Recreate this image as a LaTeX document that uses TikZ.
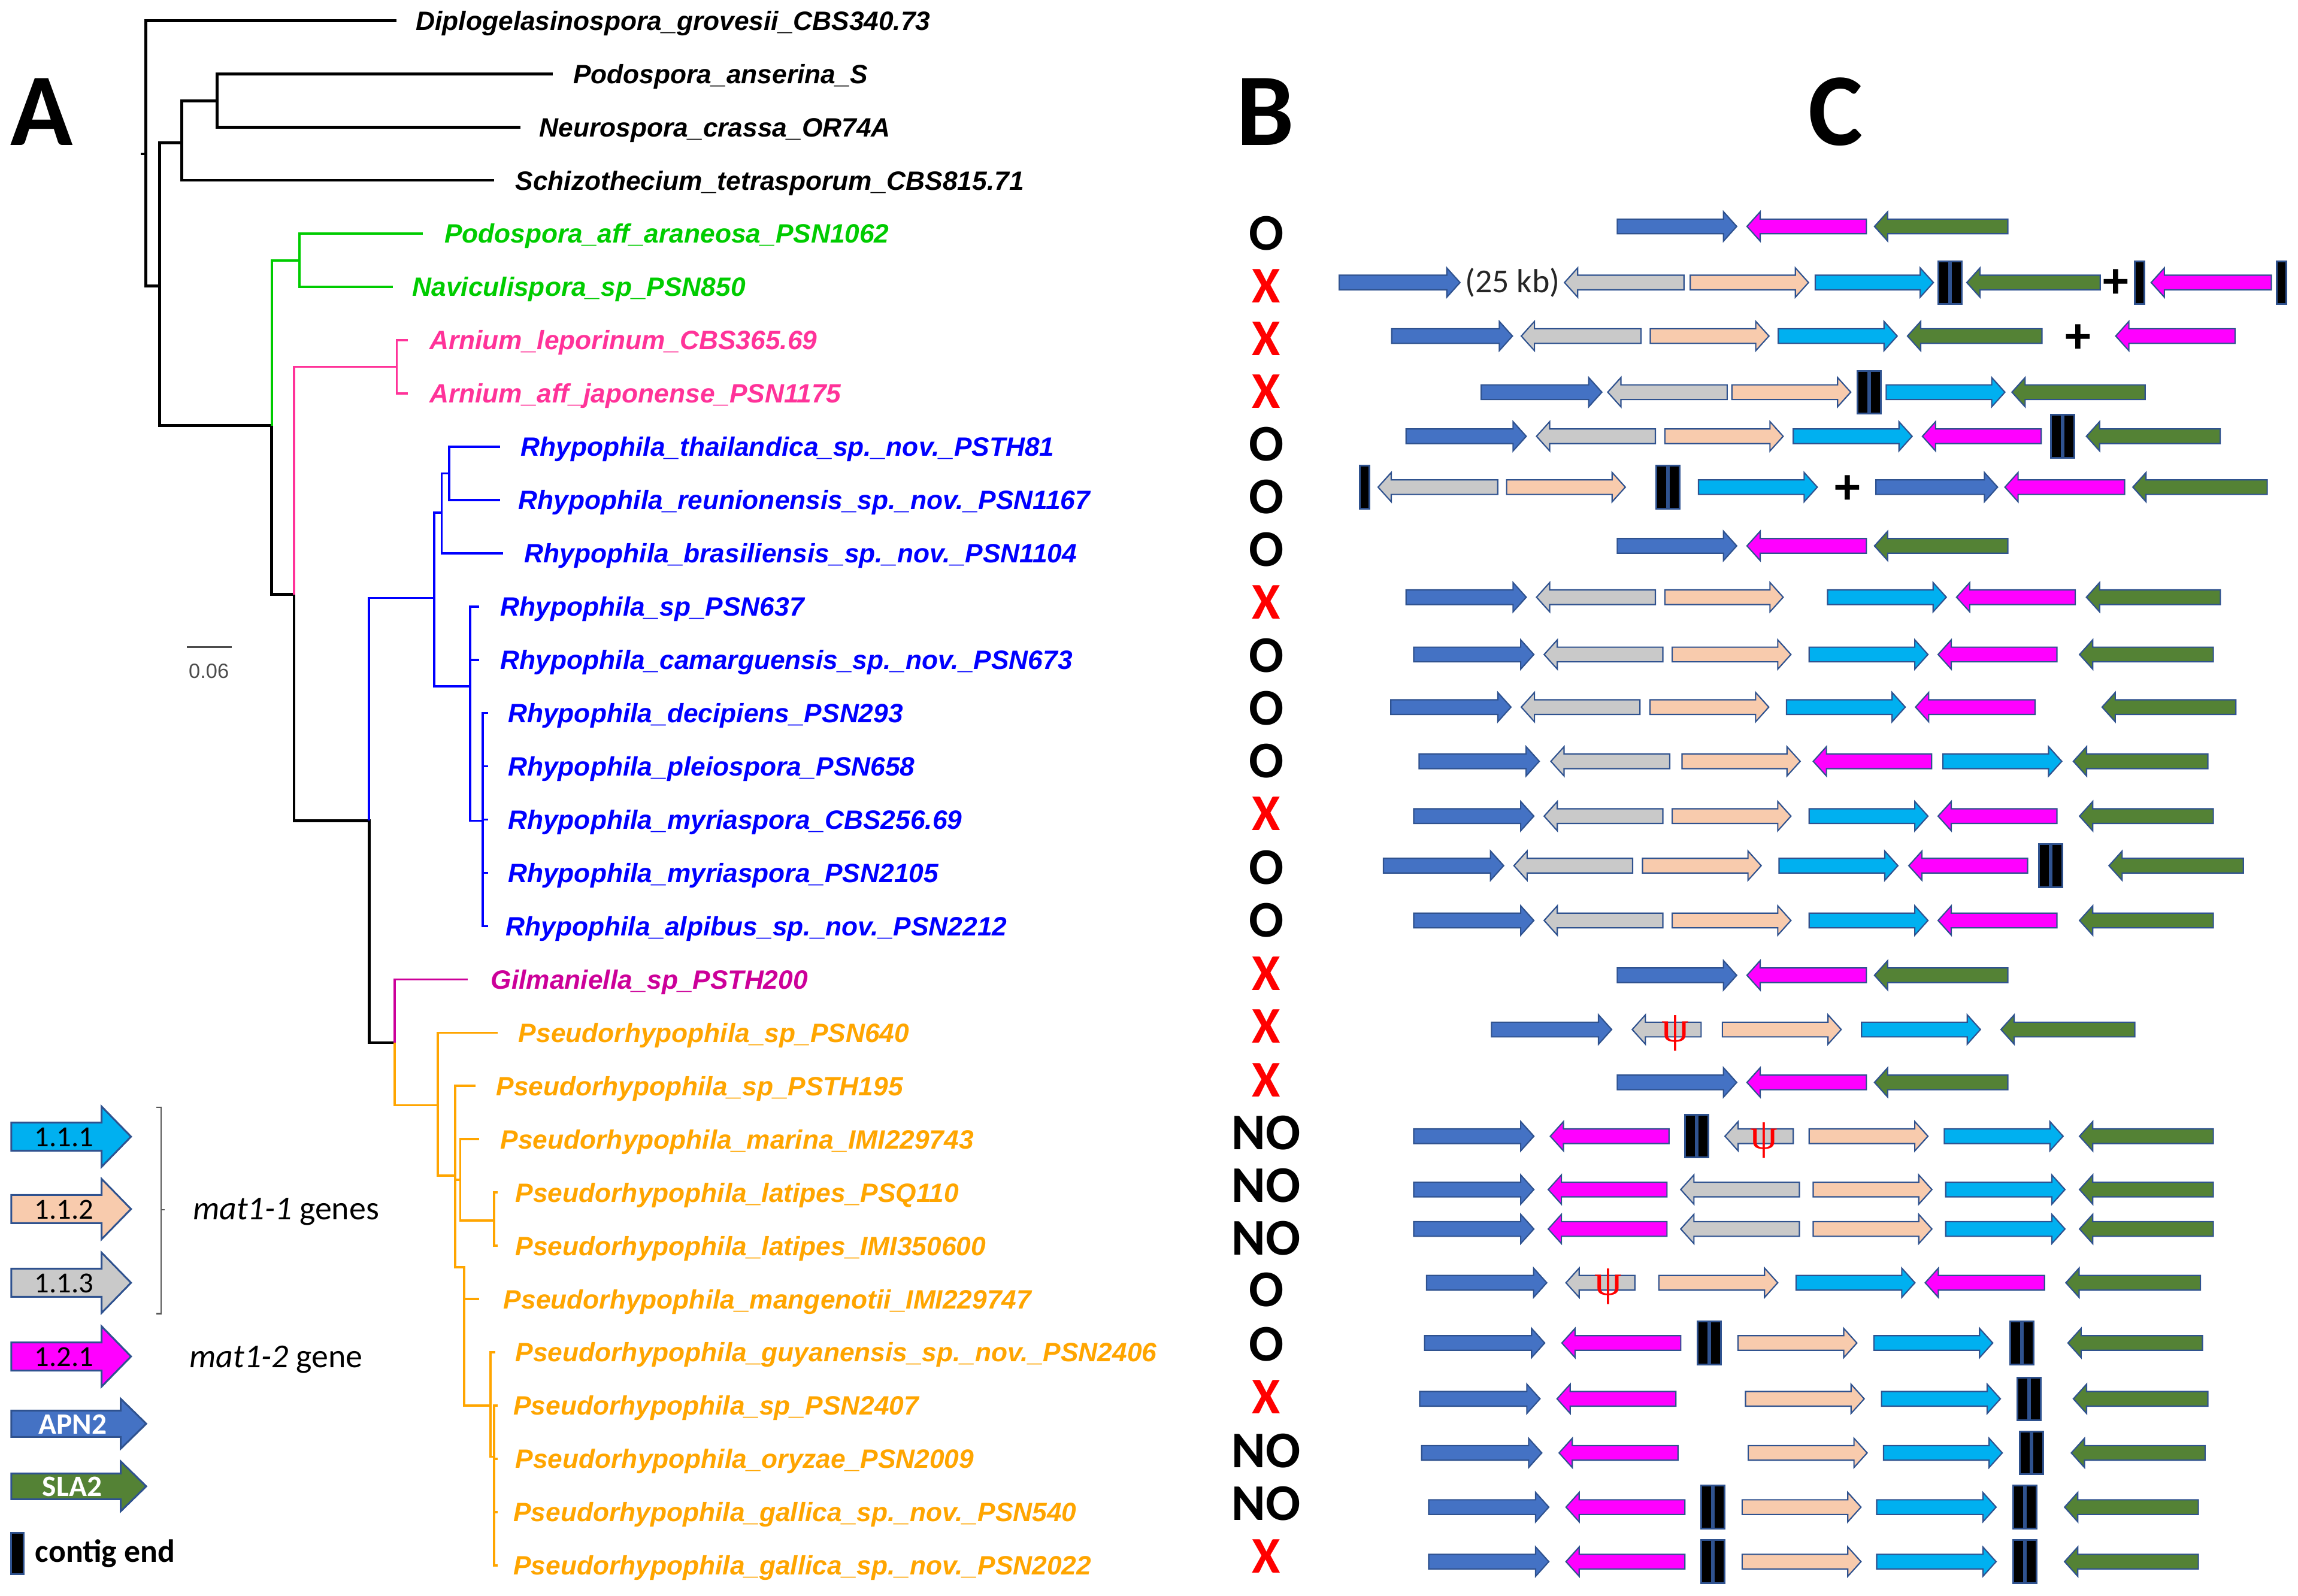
\documentclass[tikz,border=0pt]{standalone}
\usepackage{fontspec}
\setmainfont{Liberation Sans}
\newfontfamily\calfont{Carlito}
\newfontfamily\psifont{Liberation Serif}
\usepackage{tikz}
\usetikzlibrary{positioning}
\usepackage{xcolor}
\definecolor{colApn}{RGB}{68,114,196}
\definecolor{colSla}{RGB}{84,130,53}
\definecolor{colCyan}{RGB}{0,176,240}
\definecolor{colPeach}{RGB}{248,203,173}
\definecolor{colGray}{RGB}{201,201,201}
\definecolor{colMag}{RGB}{255,0,255}
\definecolor{geneline}{RGB}{47,82,143}
\definecolor{trgreen}{RGB}{0,204,0}
\definecolor{trpink}{RGB}{255,51,153}
\definecolor{trblue}{RGB}{0,0,255}
\definecolor{trpurple}{RGB}{204,0,153}
\definecolor{trorange}{RGB}{255,165,0}
\tikzstyle{gene} = [draw=geneline, line width=0.5pt, line join=miter]
\tikzstyle{contig} = [draw=geneline, fill=black, line width=0.7pt]
\tikzstyle{branch} = [line width=1.1pt, line join=miter]
\tikzstyle{blk} = [branch, black]
\tikzstyle{grn} = [branch, trgreen, line width=0.85pt]
\tikzstyle{pnk} = [branch, trpink, line width=0.85pt]
\tikzstyle{blu} = [branch, trblue, line width=0.85pt]
\tikzstyle{pur} = [branch, trpurple, line width=0.85pt]
\tikzstyle{org} = [branch, trorange, line width=0.85pt]
\tikzstyle{taxon} = [anchor=base west, inner sep=0pt, font=\fontsize{10.3}{12}\selectfont\bfseries\itshape]
\tikzstyle{panel} = [anchor=base, inner sep=0pt, font=\calfont\bfseries\fontsize{40}{48}\selectfont]
\tikzstyle{cmpsym} = [anchor=base, inner sep=0pt, font=\calfont\bfseries\fontsize{20}{24}\selectfont]
\tikzstyle{plus} = [inner sep=0pt, font=\calfont\bfseries\fontsize{20}{24}\selectfont]
\tikzstyle{psi} = [inner sep=0pt, text=red, font=\psifont\fontsize{17}{18}\selectfont]
\tikzstyle{legtext} = [inner sep=0pt, font=\calfont\fontsize{11.3}{13}\selectfont]
\tikzstyle{legname} = [inner sep=0pt, text=white, font=\calfont\bfseries\fontsize{11.5}{13}\selectfont]
\tikzstyle{legnote} = [anchor=west, inner sep=0pt, font=\calfont\fontsize{13}{15}\selectfont]
% right-pointing gene: tail, tip, y, colour
\newcommand{\rgene}[4]{\draw[gene, fill=#4] (#1,#3-5) -- (#2-9,#3-5) -- (#2-9,#3-10) -- (#2,#3) -- (#2-9,#3+10) -- (#2-9,#3+5) -- (#1,#3+5) -- cycle;}
% left-pointing gene: tip, tail, y, colour
\newcommand{\lgene}[4]{\draw[gene, fill=#4] (#1,#3) -- (#1+9,#3-10) -- (#1+9,#3-5) -- (#2,#3-5) -- (#2,#3+5) -- (#1+9,#3+5) -- (#1+9,#3+10) -- cycle;}
\newcommand{\onebar}[2]{\draw[contig] (#1-3.2,#2-14.6) rectangle (#1+3.2,#2+14.6);}
\newcommand{\twobar}[2]{\draw[contig] (#1-8,#2-14.6) rectangle (#1-0.6,#2+14.6); \draw[contig] (#1+0.6,#2-14.6) rectangle (#1+8,#2+14.6);}
\newcommand{\legarrow}[6]{\draw[gene, fill=#6, line width=0.7pt] (7.7,#1-#4) -- (#2,#1-#4) -- (#2,#1-#5) -- (#3,#1) -- (#2,#1+#5) -- (#2,#1+#4) -- (7.7,#1+#4) -- cycle;}
% three-gene rows
\newcommand{\shortrow}[1]{\rgene{1103.5}{1185}{#1}{colApn} \lgene{1192}{1273.5}{#1}{colMag} \lgene{1279}{1370}{#1}{colSla}}
\newcommand{\fullrow}[1]{\rgene{964.6}{1046.6}{#1}{colApn} \lgene{1053.6}{1134.6}{#1}{colGray} \rgene{1141}{1222}{#1}{colPeach} \rgene{1234.4}{1315.5}{#1}{colCyan} \lgene{1322.4}{1403.5}{#1}{colMag} \lgene{1418.9}{1510.2}{#1}{colSla}}

\begin{document}
\begin{tikzpicture}[x=0.02cm, y=-0.02cm]
\useasboundingbox (0,0) rectangle (1568,1089);

% Panel letters
\node[panel] (panA) at (28.5,99) {A};
\node[panel] (panB) at (863.5,99) {B};
\node[panel] (panC) at (1252.5,99) {C};

% Tree - backbone
\draw[blk] (96,105) -- (99.6,105);
\draw[blk] (270.7,14) -- (99.6,14) -- (99.6,195) -- (108.8,195);
\draw[blk] (124.1,97.6) -- (108.8,97.6) -- (108.8,290.4) -- (185.4,290.4) -- (185.4,405.6) -- (200.7,405.6) -- (200.7,559.9) -- (251.8,559.9) -- (251.8,711.4) -- (269.2,711.4);
\draw[blk] (148.1,69) -- (124.1,69) -- (124.1,123.05) -- (337,123.05);
\draw[blk] (377,50.35) -- (148.1,50.35) -- (148.1,86.7) -- (355,86.7);

% Tree - clades
\draw[grn] (185.4,290.4) -- (185.4,177.8) -- (204.3,177.8);
\draw[grn] (288.6,159.4) -- (204.3,159.4) -- (204.3,195.75) -- (268.2,195.75);
\draw[pnk] (200.7,405.6) -- (200.7,250.3) -- (270.7,250.3);
\draw[pnk] (278.4,232.1) -- (270.7,232.1) -- (270.7,268.45) -- (278.4,268.45);
\draw[blu] (251.8,559.9) -- (251.8,408) -- (296.3,408);
\draw[blu] (301.4,349.8) -- (296.3,349.8) -- (296.3,468.2) -- (320.8,468.2);
\draw[blu] (306.5,323) -- (301.4,323) -- (301.4,377.5) -- (343.3,377.5);
\draw[blu] (341.2,304.8) -- (306.5,304.8) -- (306.5,341.15) -- (341.2,341.15);
\draw[blu] (327,413.85) -- (320.8,413.85) -- (320.8,560) -- (329.5,560);
\draw[blu] (320.8,450.2) -- (327,450.2);
\draw[blu] (333,486.55) -- (329.5,486.55) -- (329.5,631.95) -- (333,631.95);
\draw[blu] (329.5,522.9) -- (333,522.9);
\draw[blu] (329.5,559.25) -- (333,559.25);
\draw[blu] (329.5,595.6) -- (333,595.6);
\draw[pur] (269.2,711.4) -- (269.2,668.3) -- (319.3,668.3);
\draw[org] (269.2,711.4) -- (269.2,754.1) -- (298.8,754.1);
\draw[org] (339.7,704.65) -- (298.8,704.65) -- (298.8,802.1) -- (310.6,802.1);
\draw[org] (324.4,741) -- (310.6,741) -- (310.6,864.7) -- (316.7,864.7) -- (316.7,959.2) -- (334.6,959.2);
\draw[org] (310.6,805) -- (314.1,805);
\draw[org] (327,777.35) -- (314.1,777.35) -- (314.1,832.7) -- (337.1,832.7);
\draw[org] (339.5,813.7) -- (337.1,813.7) -- (337.1,850.05) -- (339.5,850.05);
\draw[org] (316.7,886.4) -- (327,886.4);
\draw[org] (338,922.75) -- (334.6,922.75) -- (334.6,994) -- (337.1,994);
\draw[org] (339.5,959.1) -- (337.1,959.1) -- (337.1,1068.15) -- (339.5,1068.15);
\draw[org] (337.1,995.45) -- (339.5,995.45);
\draw[org] (337.1,1031.8) -- (339.5,1031.8);

% Scale bar
\draw[black!70, line width=0.6pt] (127.7,441.5) -- (158.3,441.5);
\node[inner sep=0pt, text=black!70, font=\fontsize{8}{9}\selectfont] (scale) at (142.5,458) {0.06};

% Taxa
\node[taxon] (t1) at (283.5,20.5) {Diplogelasinospora\_grovesii\_CBS340.73};
\node[taxon] (t2) at (390.8,56.85) {Podospora\_anserina\_S};
\node[taxon] (t3) at (367.8,93.2) {Neurospora\_crassa\_OR74A};
\node[taxon] (t4) at (351.4,129.55) {Schizothecium\_tetrasporum\_CBS815.71};
\node[taxon, text=trgreen] (t5) at (302.9,165.9) {Podospora\_aff\_araneosa\_PSN1062};
\node[taxon, text=trgreen] (t6) at (281,202.25) {Naviculispora\_sp\_PSN850};
\node[taxon, text=trpink] (t7) at (292.7,238.6) {Arnium\_leporinum\_CBS365.69};
\node[taxon, text=trpink] (t8) at (292.7,274.95) {Arnium\_aff\_japonense\_PSN1175};
\node[taxon, text=trblue] (t9) at (355,311.3) {Rhypophila\_thailandica\_sp.\_nov.\_PSTH81};
\node[taxon, text=trblue] (t10) at (353.5,347.65) {Rhypophila\_reunionensis\_sp.\_nov.\_PSN1167};
\node[taxon, text=trblue] (t11) at (357.6,384) {Rhypophila\_brasiliensis\_sp.\_nov.\_PSN1104};
\node[taxon, text=trblue] (t12) at (341.2,420.35) {Rhypophila\_sp\_PSN637};
\node[taxon, text=trblue] (t13) at (341.2,456.7) {Rhypophila\_camarguensis\_sp.\_nov.\_PSN673};
\node[taxon, text=trblue] (t14) at (346.3,493.05) {Rhypophila\_decipiens\_PSN293};
\node[taxon, text=trblue] (t15) at (346.3,529.4) {Rhypophila\_pleiospora\_PSN658};
\node[taxon, text=trblue] (t16) at (346.3,565.75) {Rhypophila\_myriaspora\_CBS256.69};
\node[taxon, text=trblue] (t17) at (346.3,602.1) {Rhypophila\_myriaspora\_PSN2105};
\node[taxon, text=trblue] (t18) at (344.8,638.45) {Rhypophila\_alpibus\_sp.\_nov.\_PSN2212};
\node[taxon, text=trpurple] (t19) at (334.6,674.8) {Gilmaniella\_sp\_PSTH200};
\node[taxon, text=trorange] (t20) at (353.5,711.15) {Pseudorhypophila\_sp\_PSN640};
\node[taxon, text=trorange] (t21) at (338.2,747.5) {Pseudorhypophila\_sp\_PSTH195};
\node[taxon, text=trorange] (t22) at (341.2,783.85) {Pseudorhypophila\_marina\_IMI229743};
\node[taxon, text=trorange] (t23) at (351.4,820.2) {Pseudorhypophila\_latipes\_PSQ110};
\node[taxon, text=trorange] (t24) at (351.4,856.55) {Pseudorhypophila\_latipes\_IMI350600};
\node[taxon, text=trorange] (t25) at (343.3,892.9) {Pseudorhypophila\_mangenotii\_IMI229747};
\node[taxon, text=trorange] (t26) at (351.4,929.25) {Pseudorhypophila\_guyanensis\_sp.\_nov.\_PSN2406};
\node[taxon, text=trorange] (t27) at (350,965.6) {Pseudorhypophila\_sp\_PSN2407};
\node[taxon, text=trorange] (t28) at (351.4,1001.95) {Pseudorhypophila\_oryzae\_PSN2009};
\node[taxon, text=trorange] (t29) at (350,1038.3) {Pseudorhypophila\_gallica\_sp.\_nov.\_PSN540};
\node[taxon, text=trorange] (t30) at (350,1074.65) {Pseudorhypophila\_gallica\_sp.\_nov.\_PSN2022};

% Column B
\node[cmpsym] (b5) at (864,170.5) {O};
\node[cmpsym, text=red] (b6) at (864,206.5) {X};
\node[cmpsym, text=red] (b7) at (864,242.5) {X};
\node[cmpsym, text=red] (b8) at (864,278.5) {X};
\node[cmpsym] (b9) at (864,314.5) {O};
\node[cmpsym] (b10) at (864,350.5) {O};
\node[cmpsym] (b11) at (864,386.5) {O};
\node[cmpsym, text=red] (b12) at (864,422.5) {X};
\node[cmpsym] (b13) at (864,458.5) {O};
\node[cmpsym] (b14) at (864,494.5) {O};
\node[cmpsym] (b15) at (864,530.5) {O};
\node[cmpsym, text=red] (b16) at (864,566.5) {X};
\node[cmpsym] (b17) at (864,603.5) {O};
\node[cmpsym] (b18) at (864,639.5) {O};
\node[cmpsym, text=red] (b19) at (864,675.5) {X};
\node[cmpsym, text=red] (b20) at (864,711.5) {X};
\node[cmpsym, text=red] (b21) at (864,748.5) {X};
\node[cmpsym] (b22) at (864,784.5) {NO};
\node[cmpsym] (b23) at (864,820.5) {NO};
\node[cmpsym] (b24) at (864,856.5) {NO};
\node[cmpsym] (b25) at (864,891.5) {O};
\node[cmpsym] (b26) at (864,928.5) {O};
\node[cmpsym, text=red] (b27) at (864,964.5) {X};
\node[cmpsym] (b28) at (864,1001.5) {NO};
\node[cmpsym] (b29) at (864,1037.5) {NO};
\node[cmpsym, text=red] (b30) at (864,1073.5) {X};

% Column C - loci
\shortrow{154.5}
\rgene{913.8}{996.2}{192.8}{colApn}
\node[inner sep=0pt, text=black!85, font=\calfont\fontsize{13}{15}\selectfont] (gap6) at (1032,192.8) {(25 kb)};
\lgene{1067.5}{1149}{192.8}{colGray}
\rgene{1153.3}{1234}{192.8}{colPeach}
\rgene{1238.6}{1319.2}{192.8}{colCyan}
\twobar{1330.6}{192.8}
\lgene{1342}{1433}{192.8}{colSla}
\node[plus] (plus6) at (1443.6,193.5) {+};
\onebar{1460}{192.8}
\lgene{1467.8}{1549.8}{192.8}{colMag}
\onebar{1556.8}{192.8}

\rgene{949.6}{1032}{229.3}{colApn}
\lgene{1038}{1119.7}{229.3}{colGray}
\rgene{1126}{1207}{229.3}{colPeach}
\rgene{1213.4}{1294.5}{229.3}{colCyan}
\lgene{1301.5}{1393.3}{229.3}{colSla}
\node[plus] (plus7) at (1418,231) {+};
\lgene{1443.6}{1525}{229.3}{colMag}

\rgene{1010.7}{1093}{267.6}{colApn}
\lgene{1097}{1178.5}{267.6}{colGray}
\rgene{1181.7}{1262.8}{267.6}{colPeach}
\twobar{1275.4}{267.6}
\rgene{1287}{1368}{267.6}{colCyan}
\lgene{1372.8}{1463.7}{267.6}{colSla}

\rgene{959.4}{1041.4}{297.7}{colApn}
\lgene{1048.4}{1129.5}{297.7}{colGray}
\rgene{1136}{1216.7}{297.7}{colPeach}
\rgene{1223.6}{1304.7}{297.7}{colCyan}
\lgene{1311.7}{1392.8}{297.7}{colMag}
\twobar{1407.5}{297.7}
\lgene{1423.6}{1514.9}{297.7}{colSla}

\onebar{931}{332.4}
\lgene{940.3}{1021.9}{332.4}{colGray}
\rgene{1028}{1109}{332.4}{colPeach}
\twobar{1138}{332.4}
\rgene{1158.9}{1240}{332.4}{colCyan}
\node[plus] (plus10) at (1260.5,334) {+};
\rgene{1280}{1363}{332.4}{colApn}
\lgene{1368}{1449.7}{332.4}{colMag}
\lgene{1455.3}{1547}{332.4}{colSla}

\shortrow{372.5}

\rgene{959.4}{1041.4}{407.5}{colApn}
\lgene{1048.4}{1129.5}{407.5}{colGray}
\rgene{1136}{1216.7}{407.5}{colPeach}
\rgene{1247}{1328}{407.5}{colCyan}
\lgene{1335}{1416}{407.5}{colMag}
\lgene{1423.6}{1515}{407.5}{colSla}

\fullrow{446.6}

\rgene{949}{1031}{482.5}{colApn}
\lgene{1038}{1119}{482.5}{colGray}
\rgene{1125.8}{1206.9}{482.5}{colPeach}
\rgene{1219}{1300}{482.5}{colCyan}
\lgene{1307}{1388.6}{482.5}{colMag}
\lgene{1434.3}{1525.6}{482.5}{colSla}

\rgene{968.3}{1050.3}{519.5}{colApn}
\lgene{1058.2}{1139.3}{519.5}{colGray}
\rgene{1147.7}{1228.3}{519.5}{colPeach}
\lgene{1237.2}{1318}{519.5}{colMag}
\rgene{1325.7}{1406.8}{519.5}{colCyan}
\lgene{1414.7}{1506.5}{519.5}{colSla}

\fullrow{556.9}

\rgene{944}{1026}{590.7}{colApn}
\lgene{1033}{1114}{590.7}{colGray}
\rgene{1120.7}{1201.7}{590.7}{colPeach}
\rgene{1213.9}{1295}{590.7}{colCyan}
\lgene{1302.4}{1383.5}{590.7}{colMag}
\twobar{1399.2}{590.7}
\lgene{1439}{1530.7}{590.7}{colSla}

\fullrow{628.1}
\shortrow{665.5}

\rgene{1017.7}{1099.7}{702.5}{colApn}
\lgene{1113.7}{1160.7}{702.5}{colGray}
\node[psi] (psi20) at (1143,705) {ψ};
\rgene{1175.2}{1256.3}{702.5}{colPeach}
\rgene{1270.2}{1351.3}{702.5}{colCyan}
\lgene{1365.3}{1456.6}{702.5}{colSla}

\shortrow{738.6}

\rgene{964.6}{1046.6}{775.3}{colApn}
\lgene{1057.8}{1138.8}{775.3}{colMag}
\twobar{1157.7}{775.3}
\lgene{1177}{1223.6}{775.3}{colGray}
\node[psi] (psi22) at (1203.6,778) {ψ};
\rgene{1234.4}{1315.5}{775.3}{colPeach}
\rgene{1326.6}{1407.7}{775.3}{colCyan}
\lgene{1418.9}{1510.2}{775.3}{colSla}

\rgene{964.6}{1046.6}{811.7}{colApn}
\lgene{1056.4}{1137.4}{811.7}{colMag}
\lgene{1146.8}{1227.8}{811.7}{colGray}
\rgene{1237.2}{1318.2}{811.7}{colPeach}
\rgene{1327.6}{1409}{811.7}{colCyan}
\lgene{1418.9}{1510.2}{811.7}{colSla}

\rgene{964.6}{1046.6}{838.6}{colApn}
\lgene{1056.4}{1137.4}{838.6}{colMag}
\lgene{1146.8}{1227.8}{838.6}{colGray}
\rgene{1237.2}{1318.2}{838.6}{colPeach}
\rgene{1327.6}{1409}{838.6}{colCyan}
\lgene{1418.9}{1510.2}{838.6}{colSla}

\rgene{973.4}{1055.4}{875.3}{colApn}
\lgene{1068.5}{1115.5}{875.3}{colGray}
\node[psi] (psi25) at (1097.4,878) {ψ};
\rgene{1131.9}{1213}{875.3}{colPeach}
\rgene{1225.5}{1306.6}{875.3}{colCyan}
\lgene{1313.6}{1395}{875.3}{colMag}
\lgene{1409.6}{1501.4}{875.3}{colSla}

\rgene{972}{1054}{916.4}{colApn}
\lgene{1065.7}{1146.8}{916.4}{colMag}
\twobar{1166.2}{916.4}
\rgene{1185.9}{1267}{916.4}{colPeach}
\rgene{1278.6}{1359.7}{916.4}{colCyan}
\twobar{1379.5}{916.4}
\lgene{1411}{1502.8}{916.4}{colSla}

\rgene{968.7}{1050.8}{954.5}{colApn}
\lgene{1062.4}{1143.5}{954.5}{colMag}
\rgene{1191}{1272}{954.5}{colPeach}
\rgene{1283.8}{1364.9}{954.5}{colCyan}
\twobar{1384.6}{954.5}
\lgene{1414.7}{1506.5}{954.5}{colSla}

\rgene{970}{1052}{991.4}{colApn}
\lgene{1063.8}{1144.9}{991.4}{colMag}
\rgene{1192.9}{1274}{991.4}{colPeach}
\rgene{1285.2}{1366.2}{991.4}{colCyan}
\twobar{1386}{991.4}
\lgene{1413.3}{1504.6}{991.4}{colSla}

\rgene{974.8}{1056.8}{1028.4}{colApn}
\lgene{1068.5}{1149.6}{1028.4}{colMag}
\twobar{1168.8}{1028.4}
\rgene{1188.7}{1269.8}{1028.4}{colPeach}
\rgene{1280.5}{1362}{1028.4}{colCyan}
\twobar{1381.8}{1028.4}
\lgene{1408.7}{1500}{1028.4}{colSla}

\rgene{974.8}{1056.8}{1065.6}{colApn}
\lgene{1068.5}{1149.6}{1065.6}{colMag}
\twobar{1168.8}{1065.6}
\rgene{1188.7}{1269.8}{1065.6}{colPeach}
\rgene{1280.5}{1362}{1065.6}{colCyan}
\twobar{1381.8}{1065.6}
\lgene{1408.7}{1500}{1065.6}{colSla}

% Legend
\legarrow{775.6}{69.3}{89.4}{9.6}{20.6}{colCyan}
\legarrow{825}{69.3}{89.4}{9.6}{20.6}{colPeach}
\legarrow{875.3}{69.3}{89.4}{9.6}{20.6}{colGray}
\legarrow{925.6}{69.3}{89.4}{9.6}{20.6}{colMag}
\legarrow{971.5}{82.4}{99.8}{9}{17}{colApn}
\legarrow{1014.2}{82.4}{99.8}{8.8}{17}{colSla}
\node[legtext] (l111) at (43.7,776) {1.1.1};
\node[legtext] (l112) at (43.7,825.4) {1.1.2};
\node[legtext] (l113) at (43.7,875.7) {1.1.3};
\node[legtext] (l121) at (43.7,926) {1.2.1};
\node[legname] (lapn) at (49.7,971.8) {APN2};
\node[legname] (lsla) at (49.3,1014.5) {SLA2};
\draw[contig] (7.7,1046) rectangle (16,1074.2);
\node[legnote, font=\calfont\bfseries\fontsize{12.5}{15}\selectfont] (lcontig) at (23.7,1060) {contig end};
\draw[black!65, line width=0.6pt] (106.5,755.5) -- (110,755.5) -- (110,896.3) -- (106.5,896.3);
\draw[black!65, line width=0.6pt] (110,825.4) -- (112.5,825.4);
\node[legnote] (lmat1) at (131.3,827) {\textit{mat1-1} genes};
\node[legnote] (lmat2) at (129,927.5) {\textit{mat1-2} gene};
\end{tikzpicture}
\end{document}
